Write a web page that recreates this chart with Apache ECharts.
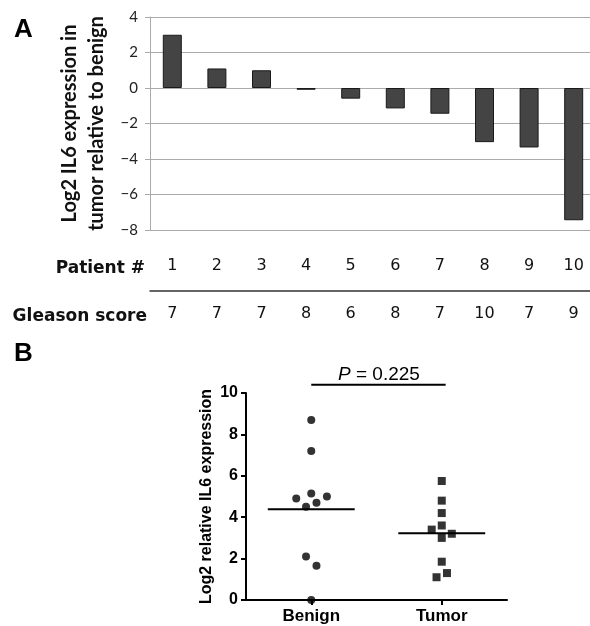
<!DOCTYPE html>
<html>
<head>
<meta charset="utf-8">
<script src="https://cdn.jsdelivr.net/npm/echarts@6/dist/echarts.min.js"></script>
<style>
html,body{margin:0;padding:0;background:#fff;}
#chart{width:590px;height:626px;}
</style>
</head>
<body>
<div id="chart"></div>
<script>
// ---- Panel A data ----
const patients = ['1','2','3','4','5','6','7','8','9','10'];
const gleasonScores = ['7','7','7','8','6','8','7','10','7','9'];
const log2Ratio = [3.0, 1.1, 1.0, -0.1, -0.6, -1.15, -1.45, -3.05, -3.35, -7.45];

// ---- Panel B data ----
const groups = ['Benign', 'Tumor'];
const benignValues = [8.7, 7.2, 4.9, 5.15, 5.0, 4.5, 4.7, 2.1, 1.65, 0.0];
const benignJitter = [0, 0, -0.115, 0, 0.12, -0.04, 0.04, -0.04, 0.04, 0];
const tumorValues = [5.75, 4.8, 4.2, 3.6, 3.4, 3.2, 3.0, 1.85, 1.3, 1.1];
const tumorJitter = [0, 0, 0, 0, -0.077, 0.077, 0, 0, 0.04, -0.04];
const pValueText = '0.225';
const pBracket = { from: 0, to: 1.03, y: 10.4 };
const meanHalfWidth = 0.333;

const mean = a => a.reduce((s, v) => s + v, 0) / a.length;
const meanB = mean(benignValues);
const meanT = mean(tumorValues);

const chart = echarts.init(document.getElementById('chart'), null, { renderer: 'canvas' });

const verdana = 'DejaVu Sans';
const calibri = 'Lato';
const arial = 'Liberation Sans';

const option = {
  backgroundColor: '#fff',
  animation: false,
  title: [
    { text: 'A', left: 9, top: 12, textStyle: { fontFamily: arial, fontWeight: 'bold', fontSize: 26, color: '#000' } },
    { text: 'B', left: 9, top: 336, textStyle: { fontFamily: arial, fontWeight: 'bold', fontSize: 26, color: '#000' } },
    { text: 'Patient #', right: 440, top: 255, textStyle: { fontFamily: verdana, fontWeight: 'bold', fontSize: 17, color: '#111' } },
    { text: 'Gleason score', right: 438, top: 303, textStyle: { fontFamily: verdana, fontWeight: 'bold', fontSize: 17, color: '#111' } },
    { text: '{i|P} = ' + pValueText, left: 333, top: 360,
      textStyle: { fontFamily: arial, fontSize: 19, fontWeight: 'normal', color: '#000',
        rich: { i: { fontFamily: arial, fontSize: 19, fontStyle: 'italic', color: '#000' } } } }
  ],
  grid: [
    { left: 150, width: 446, top: 17, bottom: 396, outerBoundsMode: 'none', containLabel: false },
    { left: 246, right: 83, top: 393, bottom: 26, outerBoundsMode: 'none', containLabel: false }
  ],
  xAxis: [
    { gridIndex: 0, type: 'category', data: patients,
      axisLine: { onZero: true, lineStyle: { color: '#aaa', width: 1 } },
      axisTick: { show: false }, axisLabel: { show: false }, splitLine: { show: false } },
    { gridIndex: 0, type: 'category', data: patients, position: 'bottom',
      axisLine: { show: false, onZero: false }, axisTick: { show: false },
      axisLabel: { margin: 28, fontFamily: verdana, fontSize: 16, color: '#111' } },
    { gridIndex: 0, type: 'category', data: gleasonScores, position: 'bottom', offset: 61,
      axisLine: { show: true, onZero: false, lineStyle: { color: '#333', width: 1.5 } },
      axisTick: { show: false },
      axisLabel: { margin: 15, fontFamily: verdana, fontSize: 16, color: '#111' } },
    { gridIndex: 1, type: 'value', min: -0.5, max: 1.5,
      axisLine: { onZero: false, lineStyle: { color: '#000', width: 2 } },
      axisTick: { show: true, customValues: [0, 1], length: 5, lineStyle: { color: '#000', width: 2 } },
      axisLabel: { customValues: [0, 1], formatter: v => groups[Math.round(v)] || '',
        margin: 8, fontFamily: arial, fontWeight: 'bold', fontSize: 17, color: '#000' },
      splitLine: { show: false } }
  ],
  yAxis: [
    { gridIndex: 0, type: 'value', min: -8, max: 4, interval: 2,
      name: 'Log2 IL6 expression in\ntumor relative to benign',
      nameLocation: 'middle', nameGap: 35, nameRotate: 90,
      nameTextStyle: { fontFamily: calibri, fontWeight: 'bold', fontSize: 20, lineHeight: 27, color: '#111' },
      axisLine: { show: true, lineStyle: { color: '#aaa', width: 1 } },
      axisTick: { show: true, length: 5, lineStyle: { color: '#aaa' } },
      axisLabel: { margin: 12, fontFamily: calibri, fontSize: 15, color: '#222',
        formatter: v => String(v).replace('-', '\u2212') },
      splitLine: { show: true, lineStyle: { color: '#aaa', width: 1 } } },
    { gridIndex: 1, type: 'value', min: 0, max: 10, interval: 2,
      name: 'Log2 relative IL6 expression',
      nameLocation: 'middle', nameGap: 31, nameRotate: 90,
      nameTextStyle: { fontFamily: arial, fontWeight: 'bold', fontSize: 16, color: '#000' },
      axisLine: { show: true, onZero: false, lineStyle: { color: '#000', width: 2 } },
      axisTick: { show: true, length: 5, lineStyle: { color: '#000', width: 2 } },
      axisLabel: { margin: 8, fontFamily: arial, fontWeight: 'bold', fontSize: 16, color: '#000' },
      splitLine: { show: false } }
  ],
  series: [
    { type: 'bar', xAxisIndex: 0, yAxisIndex: 0, data: log2Ratio, barWidth: 19,
      itemStyle: { color: '#444', borderColor: '#1a1a1a', borderWidth: 1 } },
    { type: 'scatter', xAxisIndex: 3, yAxisIndex: 1, symbol: 'circle', symbolSize: 8,
      data: benignValues.map((v, i) => [0 + benignJitter[i], v]),
      itemStyle: { color: '#000' } },
    { type: 'scatter', xAxisIndex: 3, yAxisIndex: 1, symbol: 'rect', symbolSize: 8,
      data: tumorValues.map((v, i) => [1 + tumorJitter[i], v]),
      itemStyle: { color: '#000' } },
    { type: 'line', xAxisIndex: 3, yAxisIndex: 1, symbol: 'none', silent: true,
      data: [[0 - meanHalfWidth, meanB], [0 + meanHalfWidth, meanB]],
      lineStyle: { color: '#000', width: 2 } },
    { type: 'line', xAxisIndex: 3, yAxisIndex: 1, symbol: 'none', silent: true,
      data: [[1 - meanHalfWidth, meanT], [1 + meanHalfWidth, meanT]],
      lineStyle: { color: '#000', width: 2 } },
    { type: 'line', xAxisIndex: 3, yAxisIndex: 1, symbol: 'none', silent: true, clip: false,
      data: [[pBracket.from, pBracket.y], [pBracket.to, pBracket.y]],
      lineStyle: { color: '#000', width: 2 } }
  ]
};
chart.setOption(option);
</script>
</body>
</html>
